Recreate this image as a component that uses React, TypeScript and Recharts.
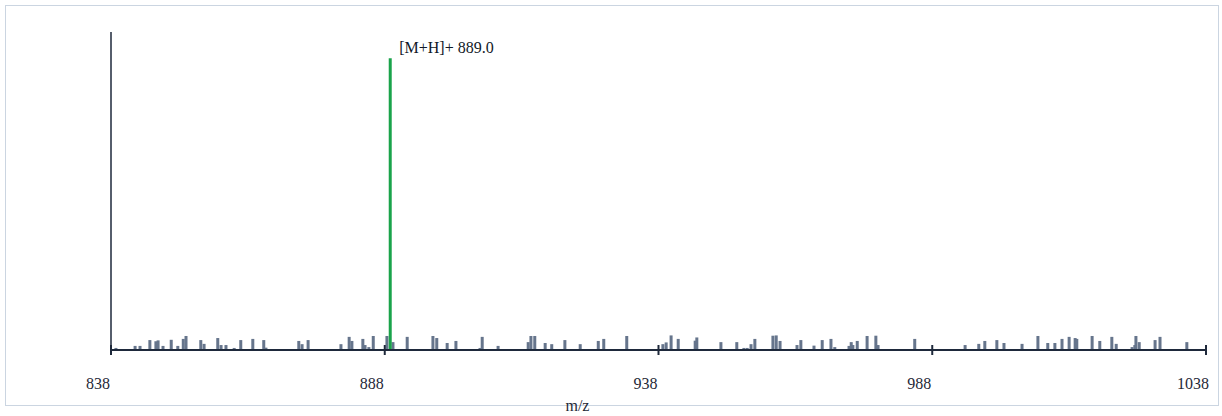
import { BarChart, Bar, XAxis, YAxis, Cell, LabelList } from 'recharts';

// noise peaks (m/z, relative intensity)
const noiseMz = [
  838.9, 842.4, 843.3, 845.1, 846.2, 846.6, 847.5, 849.0, 850.2, 851.2, 851.7,
  854.4, 855.0, 857.5, 858.1, 859.0, 860.5, 861.7, 863.9, 865.9, 866.3,
  872.3, 872.9, 874.0, 880.0, 881.5, 882.0, 884.0, 884.4, 885.1, 885.9,
  888.4, 889.5, 892.1, 896.8, 897.5, 899.4, 901.0, 905.4, 905.8, 908.7,
  914.2, 914.7, 915.4, 917.3, 918.5, 920.9, 923.7, 927.0, 928.0, 932.2,
  938.8, 939.4, 940.3, 941.6, 944.7, 945.0, 949.4, 952.3, 953.6, 954.2,
  954.9, 955.6, 958.9, 959.5, 960.2, 963.3, 964.0, 966.4, 967.9, 969.5,
  970.2, 972.8, 973.2, 973.5, 974.3, 976.1, 977.7, 978.1, 984.8,
  994.0, 996.5, 997.6, 999.8, 1001.1, 1004.4, 1007.3, 1009.1, 1010.4,
  1011.7, 1013.0, 1014.1, 1014.4, 1017.2, 1018.6, 1020.8, 1021.6,
  1024.5, 1025.2, 1025.0, 1025.8, 1028.7, 1029.6, 1034.5,
];
const noiseIntensity = [
  0.7, 1.4, 1.4, 3.4, 3.0, 3.3, 1.4, 3.5, 1.4, 3.8, 4.8,
  3.4, 2.1, 4.1, 1.7, 1.7, 0.7, 3.4, 3.8, 3.4, 0.8,
  3.1, 2.0, 3.4, 2.0, 4.5, 3.1, 3.8, 1.7, 1.0, 4.8,
  4.8, 2.7, 4.5, 4.8, 4.1, 2.4, 3.1, 0.7, 4.5, 1.4,
  2.7, 4.8, 4.8, 2.4, 2.0, 3.4, 2.0, 3.1, 3.8, 4.8,
  2.0, 2.6, 5.0, 3.8, 3.2, 4.3, 2.7, 2.7, 0.7, 0.7,
  2.0, 3.8, 4.9, 5.0, 3.1, 1.7, 3.4, 1.5, 3.4, 3.8,
  1.0, 1.4, 2.7, 1.7, 3.1, 4.8, 4.9, 1.7, 3.8,
  1.7, 2.1, 3.1, 3.4, 2.4, 2.1, 4.8, 2.4, 2.4,
  3.8, 4.5, 4.1, 3.8, 4.8, 3.1, 4.5, 2.1,
  1.0, 4.8, 1.7, 2.7, 3.4, 4.5, 2.7,
];

const precursorMz = 889.0;
const precursorIntensity = 100;
const precursorLabel = '[M+H]+ 889.0';

const mzTicks = [838, 888, 938, 988, 1038];

const SERIF = '"Liberation Serif", "Times New Roman", serif';
const AXIS = '#1e293b';
const NOISE = '#66758c';
const GREEN = '#1aa34a';

const data = [
  ...noiseMz.map((mz, i) => ({ mz, intensity: noiseIntensity[i], main: false })),
  { mz: precursorMz, intensity: precursorIntensity, main: true },
];
const mainIndex = data.length - 1;

const Peak = (props: any) => {
  const { x, y, width, height, fill } = props;
  if (!height) return null;
  return <rect x={x + width / 2 - 1.5} y={y} width={3} height={height} fill={fill} />;
};

const MzTick = (props: any) => {
  const { x, y, payload } = props;
  return (
    <g>
      <line x1={x} x2={x} y1={y - 5} y2={y + 5} stroke={AXIS} strokeWidth={2} />
      <text x={x - 13} y={y + 39} textAnchor="middle" fontSize={16} fontFamily={SERIF} fill="#1f2937">
        {payload.value}
      </text>
    </g>
  );
};

const PeakLabel = (props: any) => {
  const { x, y, width, index } = props;
  if (index !== mainIndex) return null;
  return (
    <text x={x + width / 2 + 9} y={y - 5} fontSize={16} fontFamily={SERIF} fill="#111827">
      {precursorLabel}
    </text>
  );
};

export default function App() {
  return (
    <div style={{ position: 'absolute', left: 0, top: 0, width: 1222, height: 416 }}>
      <div
        style={{
          position: 'absolute',
          left: 5,
          top: 5,
          width: 1212,
          height: 399,
          border: '1px solid #cbd5e1',
        }}
      />
      <BarChart
        width={1222}
        height={416}
        data={data}
        margin={{ top: 32, right: 16, left: 51, bottom: 36 }}
        style={{ position: 'absolute', left: 0, top: 0 }}
      >
        <XAxis
          dataKey="mz"
          type="number"
          domain={[838, 1038]}
          ticks={mzTicks}
          allowDataOverflow
          height={30}
          tickSize={0}
          tickMargin={0}
          tickLine={false}
          tick={<MzTick />}
          axisLine={{ stroke: AXIS, strokeWidth: 2 }}
          label={{
            content: (p: any) => {
              const vb = p.viewBox;
              return (
                <text
                  x={vb.x + vb.width * 0.426}
                  y={vb.y + 61}
                  textAnchor="middle"
                  fontSize={16}
                  fontFamily={SERIF}
                  fill="#1f2937"
                >
                  m/z
                </text>
              );
            },
          }}
        />
        <YAxis
          type="number"
          domain={[0, 109]}
          width={60}
          tick={false}
          tickLine={false}
          axisLine={{ stroke: AXIS, strokeWidth: 1.5 }}
        />
        <Bar dataKey="intensity" isAnimationActive={false} shape={<Peak />}>
          {data.map((d, i) => (
            <Cell key={`peak-${i}`} fill={d.main ? GREEN : NOISE} />
          ))}
          <LabelList dataKey="intensity" content={<PeakLabel />} />
        </Bar>
      </BarChart>
    </div>
  );
}
